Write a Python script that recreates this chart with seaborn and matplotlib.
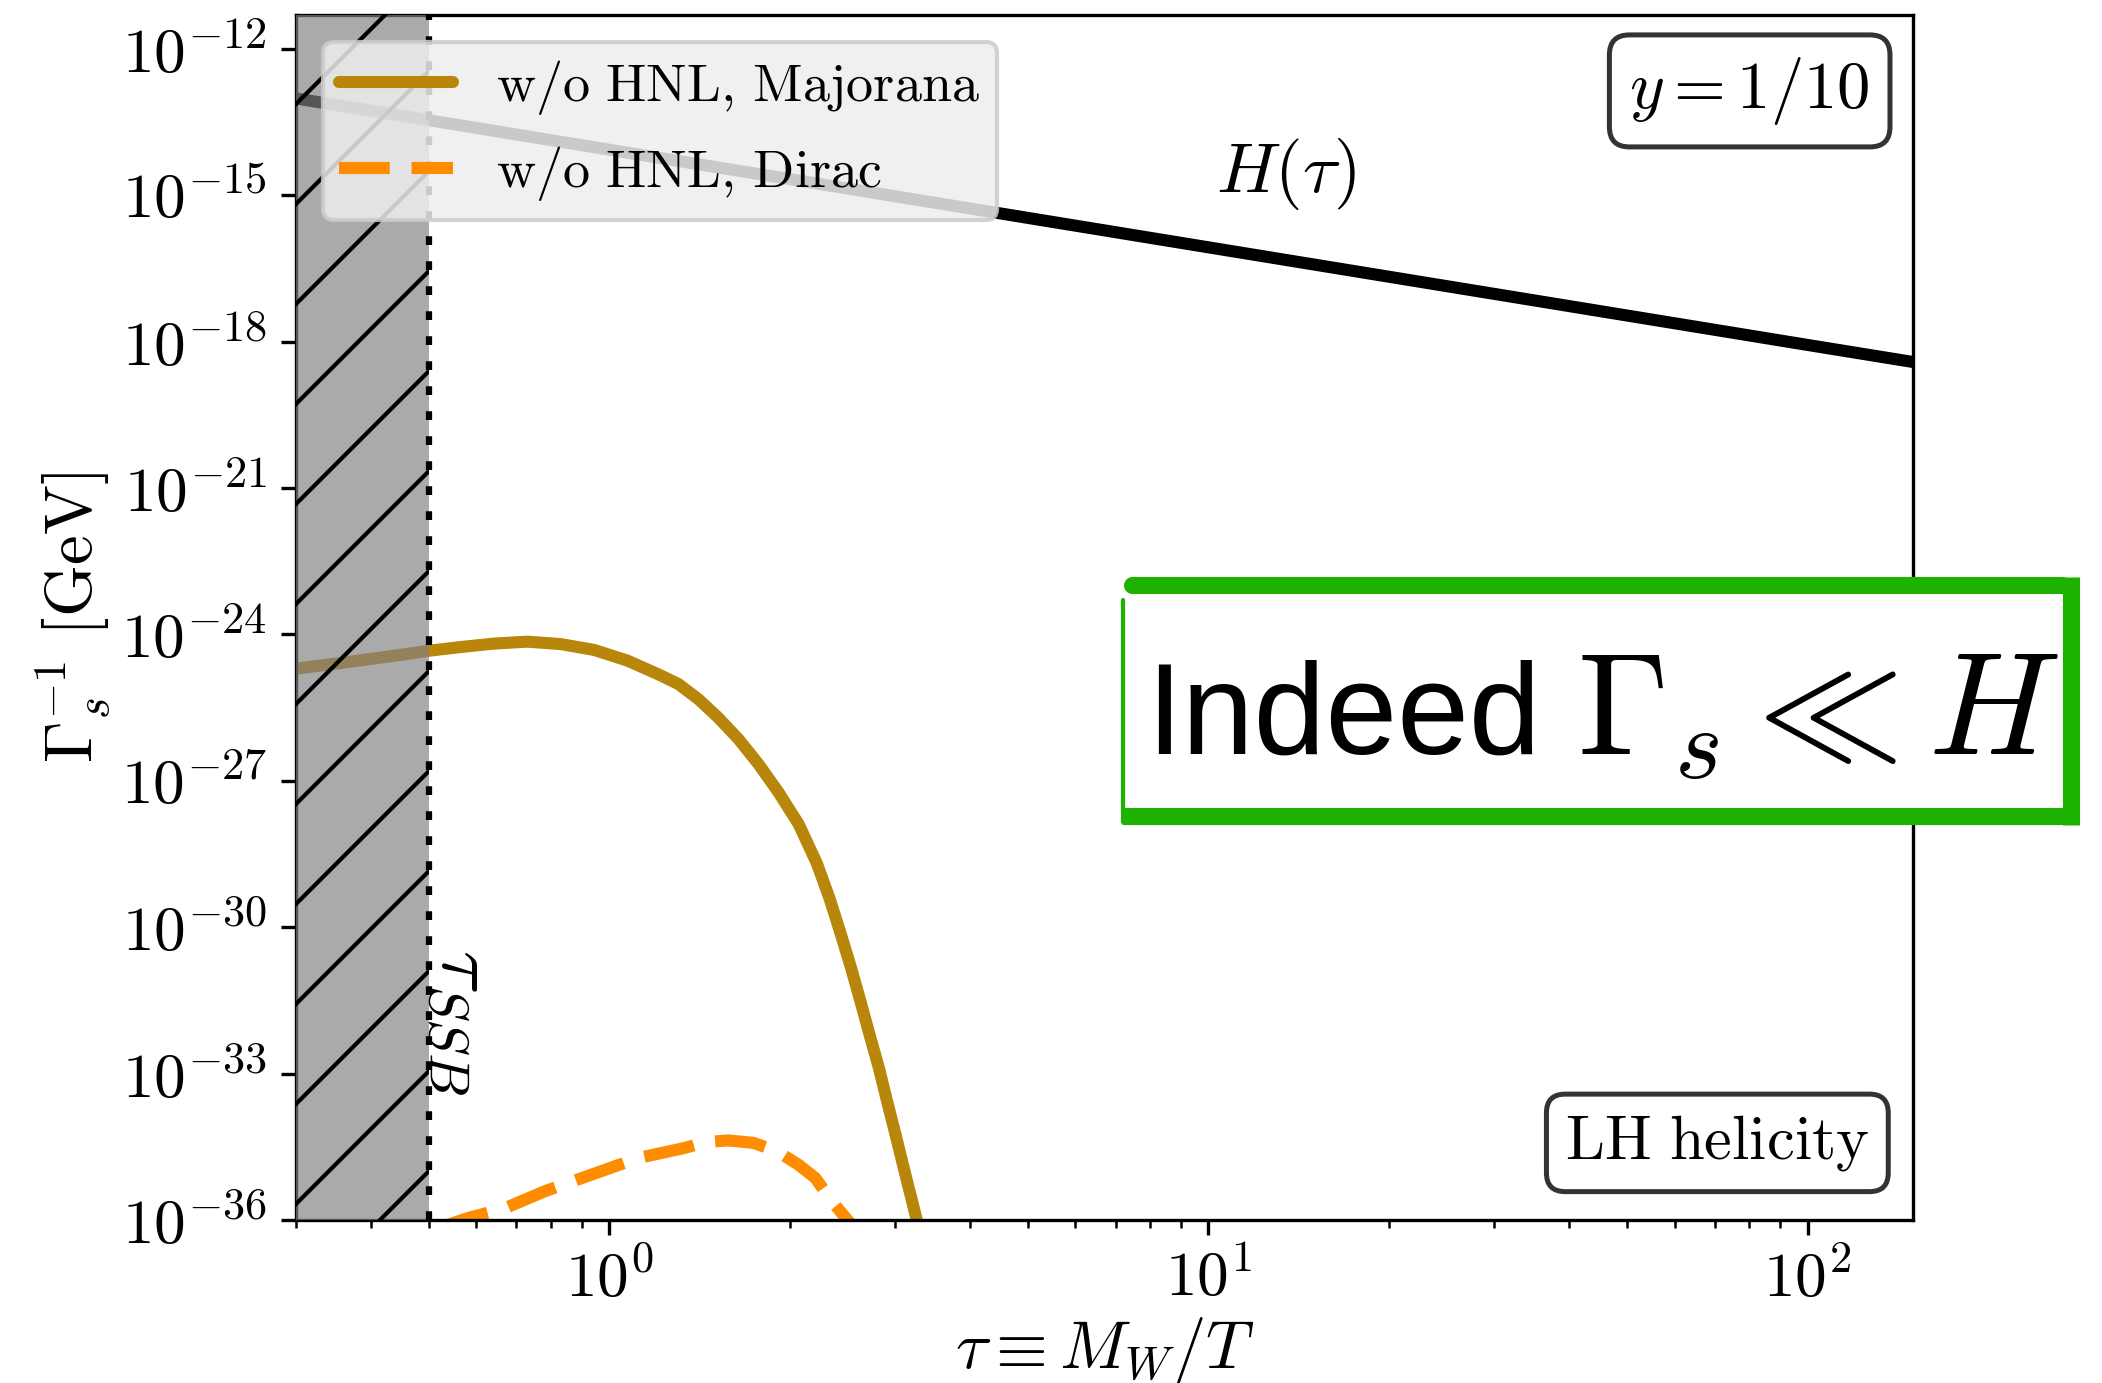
import numpy as np
import matplotlib
matplotlib.use("Agg")
import matplotlib.pyplot as plt
from matplotlib.lines import Line2D
from matplotlib.patches import Rectangle
from matplotlib.ticker import FixedLocator, LogLocator, NullLocator, NullFormatter, FuncFormatter
import seaborn as sns

# Данные (log10 от Gamma_s^-1)
tau_h = [0.3, 1.0, 10.0, 100.0, 150.0]
log_h = [-13.02, -14.07, -16.07, -18.07, -18.42]

tau_maj = [0.297, 0.360, 0.437, 0.497, 0.565, 0.642, 0.730, 0.830, 0.944, 1.073,
           1.208, 1.305, 1.409, 1.521, 1.644, 1.775, 1.917, 2.071, 2.222, 2.333,
           2.436, 2.532, 2.626, 2.719, 2.818, 2.909, 3.005, 3.102, 3.203, 3.265, 3.325]
log_maj = [-24.71, -24.58, -24.44, -24.34, -24.26, -24.19, -24.15, -24.20, -24.32, -24.54,
           -24.82, -25.02, -25.33, -25.71, -26.15, -26.66, -27.24, -27.89, -28.70, -29.42,
           -30.15, -30.83, -31.52, -32.20, -32.88, -33.57, -34.25, -34.94, -35.62, -36.03, -36.40]

tau_dir = [0.520, 0.581, 0.669, 0.781, 0.854, 1.022, 1.118, 1.329, 1.454, 1.581,
           1.741, 1.905, 2.071, 2.208, 2.354, 2.510, 2.620]
log_dir = [-36.16, -35.96, -35.76, -35.41, -35.24, -34.90, -34.73, -34.53, -34.40, -34.37,
           -34.42, -34.59, -34.87, -35.14, -35.62, -36.03, -36.30]

tau_ssb = 0.5
tau_min, tau_max = 0.3, 150.0
log_ymin, log_ymax = -36.0, -11.31

x_ticks = [1, 10, 100]
y_tick_exp = [-36, -33, -30, -27, -24, -21, -18, -15, -12]

labels = [r"$\mathrm{w/o\ HNL,\!\ Majorana}$", r"$\mathrm{w/o\ HNL,\!\ Dirac}$"]
col_maj = "darkgoldenrod"
col_dir = "darkorange"

sns.set_style("ticks", {"axes.edgecolor": "black", "xtick.color": "black",
                        "ytick.color": "black", "text.color": "black",
                        "axes.labelcolor": "black"})
plt.rcParams["mathtext.fontset"] = "cm"
plt.rcParams["font.family"] = ["DejaVu Sans"]
plt.rcParams["hatch.linewidth"] = 1.0

W, H = 2102, 1383
fig = plt.figure(figsize=(W / 300, H / 300), dpi=300)
ax = fig.add_axes([296 / W, 1 - 1220 / H, (1913 - 296) / W, (1220 - 15) / H])

# Кривые
sns.lineplot(x=tau_h, y=10.0 ** np.array(log_h), ax=ax, color="black", linewidth=2.9)
sns.lineplot(x=tau_maj, y=10.0 ** np.array(log_maj), ax=ax, color=col_maj, linewidth=2.9,
             label=labels[0])
sns.lineplot(x=tau_dir, y=10.0 ** np.array(log_dir), ax=ax, color=col_dir, linewidth=2.9,
             label=labels[1])
line_h, line_maj, line_dir = ax.get_lines()[:3]
for ln in (line_h, line_maj, line_dir):
    ln.set_linewidth(2.9)
    ln.set_zorder(2)
line_dir.set_dashes((4.2, 1.8))

ax.set_xscale("log")
ax.set_yscale("log")
ax.set_xlim(tau_min, tau_max)
ax.set_ylim(10.0 ** log_ymin, 10.0 ** log_ymax)

# Область до SSB
ax.axvspan(tau_min, tau_ssb, facecolor="gray", alpha=0.67, lw=0, zorder=3)
ax.axvspan(tau_min, tau_ssb, facecolor="none", edgecolor="black", hatch="/", lw=0, zorder=3)
ax.axvline(tau_ssb, color="black", lw=1.5, linestyle=(0, (1.4, 2.6)), zorder=4)
ax.text(0.57, 10.0 ** -31.95, r"$\tau_{SSB}$", rotation=-90, fontsize=19,
        ha="center", va="center", zorder=5)

ax.text(13.5, 10.0 ** -14.56, r"$H(\tau)$", fontsize=17, ha="center", va="center")

# Оси
fmt = FuncFormatter(lambda v, p: r"$10^{%d}$" % round(np.log10(v)))
ax.xaxis.set_major_locator(FixedLocator(x_ticks))
ax.xaxis.set_minor_locator(LogLocator(base=10, subs=np.arange(2, 10)))
ax.xaxis.set_major_formatter(fmt)
ax.xaxis.set_minor_formatter(NullFormatter())
ax.yaxis.set_major_locator(FixedLocator([10.0 ** e for e in y_tick_exp]))
ax.yaxis.set_minor_locator(NullLocator())
ax.yaxis.set_major_formatter(fmt)
ax.tick_params(labelsize=15.2)
ax.set_xlabel(r"$\tau \equiv M_W/T$", fontsize=16)
ax.set_ylabel(r"$\Gamma_s^{-1}\ [\mathrm{GeV}]$", fontsize=16)
ax.xaxis.set_label_coords(0.5, -0.079)
ax.yaxis.set_label_coords(-0.113, 0.5)

leg = ax.legend(handles=[line_maj, line_dir], labels=labels, loc="upper left", fontsize=13,
                handlelength=2.1, handletextpad=0.8, borderpad=0.3, framealpha=0.85,
                facecolor="#eeeeee", edgecolor="0.8")
leg.set_zorder(10)

box = dict(boxstyle="round,pad=0.3", fc="white", ec="#333333", lw=1.2)
ax.text(0.899, 0.937, r"$y = 1/10$", transform=ax.transAxes, fontsize=16,
        ha="center", va="center", bbox=box, zorder=6)
ax.text(0.879, 0.064, r"$\mathrm{LH\ helicity}$", transform=ax.transAxes, fontsize=15,
        ha="center", va="center", bbox=box, zorder=6)

# Зелёная рамка поверх всего
def fx(px):
    return px / W

def fy(py):
    return 1 - py / H

green = "#1eb200"
fig.add_artist(Rectangle((fx(1121), fy(816)), fx(2071) - fx(1121), fy(585) - fy(816),
                         transform=fig.transFigure, facecolor="white", edgecolor="none", zorder=20))
fig.add_artist(Line2D([fx(1132), fx(2062)], [fy(585), fy(585)], color=green, lw=4.1,
                      solid_capstyle="round", zorder=21))
fig.add_artist(Line2D([fx(2071), fx(2071)], [fy(577), fy(825)], color=green, lw=4.1,
                      solid_capstyle="butt", zorder=21))
fig.add_artist(Line2D([fx(1122), fx(2066)], [fy(816), fy(816)], color=green, lw=4.1,
                      solid_capstyle="butt", zorder=21))
fig.add_artist(Line2D([fx(1123), fx(1123)], [fy(600), fy(822)], color=green, lw=1.0, zorder=21))
fig.text(fx(1146), fy(754), "Indeed", fontsize=31, family=["Liberation Sans"],
         ha="left", va="baseline", zorder=22)
fig.text(fx(1577), fy(754), r"$\Gamma_s \ll H$", fontsize=35,
         ha="left", va="baseline", zorder=22)

fig.savefig("out.png", dpi=300)
